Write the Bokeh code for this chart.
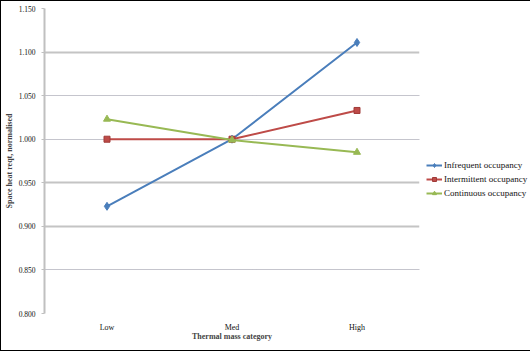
from bokeh.plotting import figure
from bokeh.models import Range1d, FixedTicker, Grid, NumeralTickFormatter, Legend, LegendItem
from bokeh.embed import file_html
from bokeh.resources import INLINE

categories = ["Low", "Med", "High"]
infrequent = [0.923, 1.000, 1.111]
intermittent = [1.000, 1.000, 1.033]
continuous = [1.023, 0.999, 0.985]
y_ticks = [0.800, 0.850, 0.900, 0.950, 1.000, 1.050, 1.100, 1.150]
solid_grid = [0.900, 0.950, 1.100]
dotted_grid = [0.800, 0.850, 1.000, 1.050, 1.150]

FONT = "Liberation Serif"

p = figure(frame_width=375, frame_height=305, x_range=categories, y_range=Range1d(0.8, 1.15),
           output_backend="svg", toolbar_location=None,
           min_border_left=43, min_border_right=110, min_border_top=7, min_border_bottom=37)
p.styles = {"border": "1px solid black", "box-sizing": "border-box"}
p.outline_line_color = None
p.background_fill_color = "white"
p.border_fill_color = "white"

p.xgrid.grid_line_color = None
p.ygrid.grid_line_color = None
g1 = Grid(dimension=1, ticker=FixedTicker(ticks=solid_grid), grid_line_color="#c4c4c4", grid_line_width=2)
g2 = Grid(dimension=1, ticker=FixedTicker(ticks=dotted_grid), grid_line_color="#8a8a9a",
          grid_line_width=1, grid_line_dash="1 1")
p.add_layout(g1)
p.add_layout(g2)

p.yaxis.ticker = FixedTicker(ticks=y_ticks)
p.yaxis.formatter = NumeralTickFormatter(format="0.000")
p.yaxis.axis_line_color = "#c0c0c0"
p.yaxis.axis_line_width = 2
p.yaxis.major_tick_line_color = "#c0c0c0"
p.yaxis.major_tick_out = 3
p.yaxis.major_tick_in = 0
p.yaxis.minor_tick_line_color = None
p.yaxis.major_label_text_font = FONT
p.yaxis.major_label_text_font_size = "7.5px"
p.yaxis.major_label_text_color = "#111111"
p.yaxis.major_label_standoff = 6
p.yaxis.axis_label = "Space heat reqt, normalised"
p.yaxis.axis_label_text_font = FONT
p.yaxis.axis_label_text_font_style = "bold"
p.yaxis.axis_label_text_font_size = "8px"
p.yaxis.axis_label_standoff = 2

p.xaxis.axis_line_color = None
p.xaxis.major_tick_line_color = None
p.xaxis.major_tick_out = 0
p.xaxis.major_tick_in = 0
p.xaxis.major_label_text_font = FONT
p.xaxis.major_label_text_font_size = "8px"
p.xaxis.major_label_text_color = "#111111"
p.xaxis.major_label_standoff = 9
p.xaxis.axis_label = "Thermal mass category"
p.xaxis.axis_label_text_font = FONT
p.xaxis.axis_label_text_font_style = "bold"
p.xaxis.axis_label_text_font_size = "8px"
p.xaxis.axis_label_standoff = -3

blue, red, green = "#4a7ebb", "#be4b48", "#98b954"
l1 = p.line(categories, infrequent, line_color=blue, line_width=2)
m1 = p.scatter(categories, infrequent, marker="diamond", size=8, fill_color=blue, line_color=blue)
l2 = p.line(categories, intermittent, line_color=red, line_width=2)
m2 = p.scatter(categories, intermittent, marker="square", size=6, fill_color=red, line_color="#a03a38")
l3 = p.line(categories, continuous, line_color=green, line_width=2)
m3 = p.scatter(categories, continuous, marker="triangle", size=7, fill_color=green, line_color=green)

legend = Legend(items=[
    LegendItem(label="Infrequent occupancy", renderers=[l1, m1]),
    LegendItem(label="Intermittent occupancy", renderers=[l2, m2]),
    LegendItem(label="Continuous occupancy", renderers=[l3, m3]),
], location=(7, 115))
legend.label_text_font = FONT
legend.label_text_font_size = "9px"
legend.label_text_color = "#111111"
legend.border_line_color = None
legend.background_fill_alpha = 0
legend.glyph_width = 16
legend.glyph_height = 10
legend.spacing = 4
legend.label_standoff = 2
legend.label_height = 10
legend.padding = 2
legend.margin = 0
p.add_layout(legend, "right")

open("out.html", "w").write(file_html(p, INLINE))
